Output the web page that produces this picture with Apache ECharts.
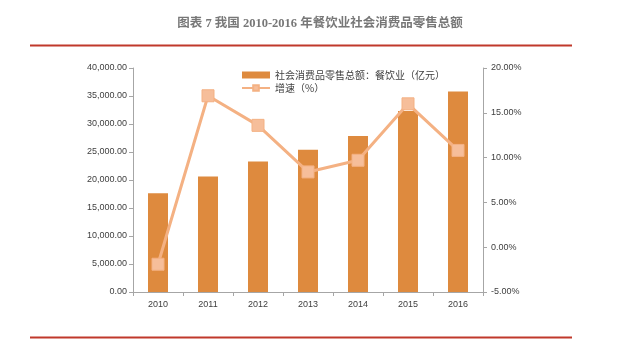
<!DOCTYPE html>
<html><head><meta charset="utf-8">
<script src="https://cdn.jsdelivr.net/npm/echarts@6/dist/echarts.min.js"></script>
<style>html,body{margin:0;padding:0;background:#fff}#c{width:640px;height:341px}</style>
</head><body><div id="c"></div>
<script>
const titleText = '图表 7 我国 2010-2016 年餐饮业社会消费品零售总额';
const categories = ['2010','2011','2012','2013','2014','2015','2016'];
const barName = '社会消费品零售总额：餐饮业（亿元）';
const lineName = '增速（%）';
const retailValues = [17636, 20635, 23283, 25392, 27860, 32310, 35799];
const growthValues = [-1.9, 16.9, 13.6, 8.4, 9.7, 16.0, 10.8];

const chart = echarts.init(document.getElementById('c'));
const axisFont = {fontFamily:'Liberation Sans, Noto Sans CJK SC', fontSize:9, color:'#404040'};
chart.setOption({
  animation:false,
  graphic:[
    {type:'text', left:'center', top:18, style:{text:titleText, x:0, fill:'#777', font:'bold 12.5px "Liberation Serif", "Noto Sans CJK SC"'}},
    {type:'line', shape:{x1:30,y1:45.5,x2:572,y2:45.5}, style:{stroke:'#C0392B', lineWidth:2}},
    {type:'line', shape:{x1:30,y1:337.5,x2:572,y2:337.5}, style:{stroke:'#C0392B', lineWidth:2}}
  ],
  legend:{
    left:236, top:65, orient:'vertical', itemGap:3, itemWidth:28, itemHeight:7,
    textStyle:{fontSize:10, color:'#404040', fontFamily:'Noto Sans CJK SC'},
    data:[{name:barName, icon:'rect'}, {name:lineName}]
  },
  grid:{left:133, right:157, top:68, bottom:49},
  xAxis:{
    type:'category', data:categories, boundaryGap:true,
    axisLine:{lineStyle:{color:'#A6A6A6'}},
    axisTick:{show:true, alignWithLabel:false, length:4, lineStyle:{color:'#A6A6A6'}},
    axisLabel:Object.assign({margin:8}, axisFont)
  },
  yAxis:[
    {type:'value', min:0, max:40000, interval:5000,
     axisLine:{show:true, lineStyle:{color:'#A6A6A6'}},
     axisTick:{show:true, length:4, lineStyle:{color:'#A6A6A6'}},
     splitLine:{show:false},
     axisLabel:Object.assign({margin:6, formatter:v=>v.toLocaleString('en-US',{minimumFractionDigits:2,maximumFractionDigits:2})}, axisFont)},
    {type:'value', min:-5, max:20, interval:5, position:'right',
     axisLine:{show:true, lineStyle:{color:'#A6A6A6'}},
     axisTick:{show:true, length:4, lineStyle:{color:'#A6A6A6'}},
     splitLine:{show:false},
     axisLabel:Object.assign({margin:8, formatter:v=>v.toFixed(2)+'%'}, axisFont)}
  ],
  series:[
    {name:barName, type:'bar', data:retailValues, barWidth:20, itemStyle:{color:'#DE8A3E'}, yAxisIndex:0},
    {name:lineName, type:'line', data:growthValues, yAxisIndex:1, symbol:'rect', symbolSize:12,
     lineStyle:{color:'#F4B183', width:3}, itemStyle:{color:'#F6BE9A', borderColor:'#F4B183', borderWidth:1}}
  ]
});
</script></body></html>
